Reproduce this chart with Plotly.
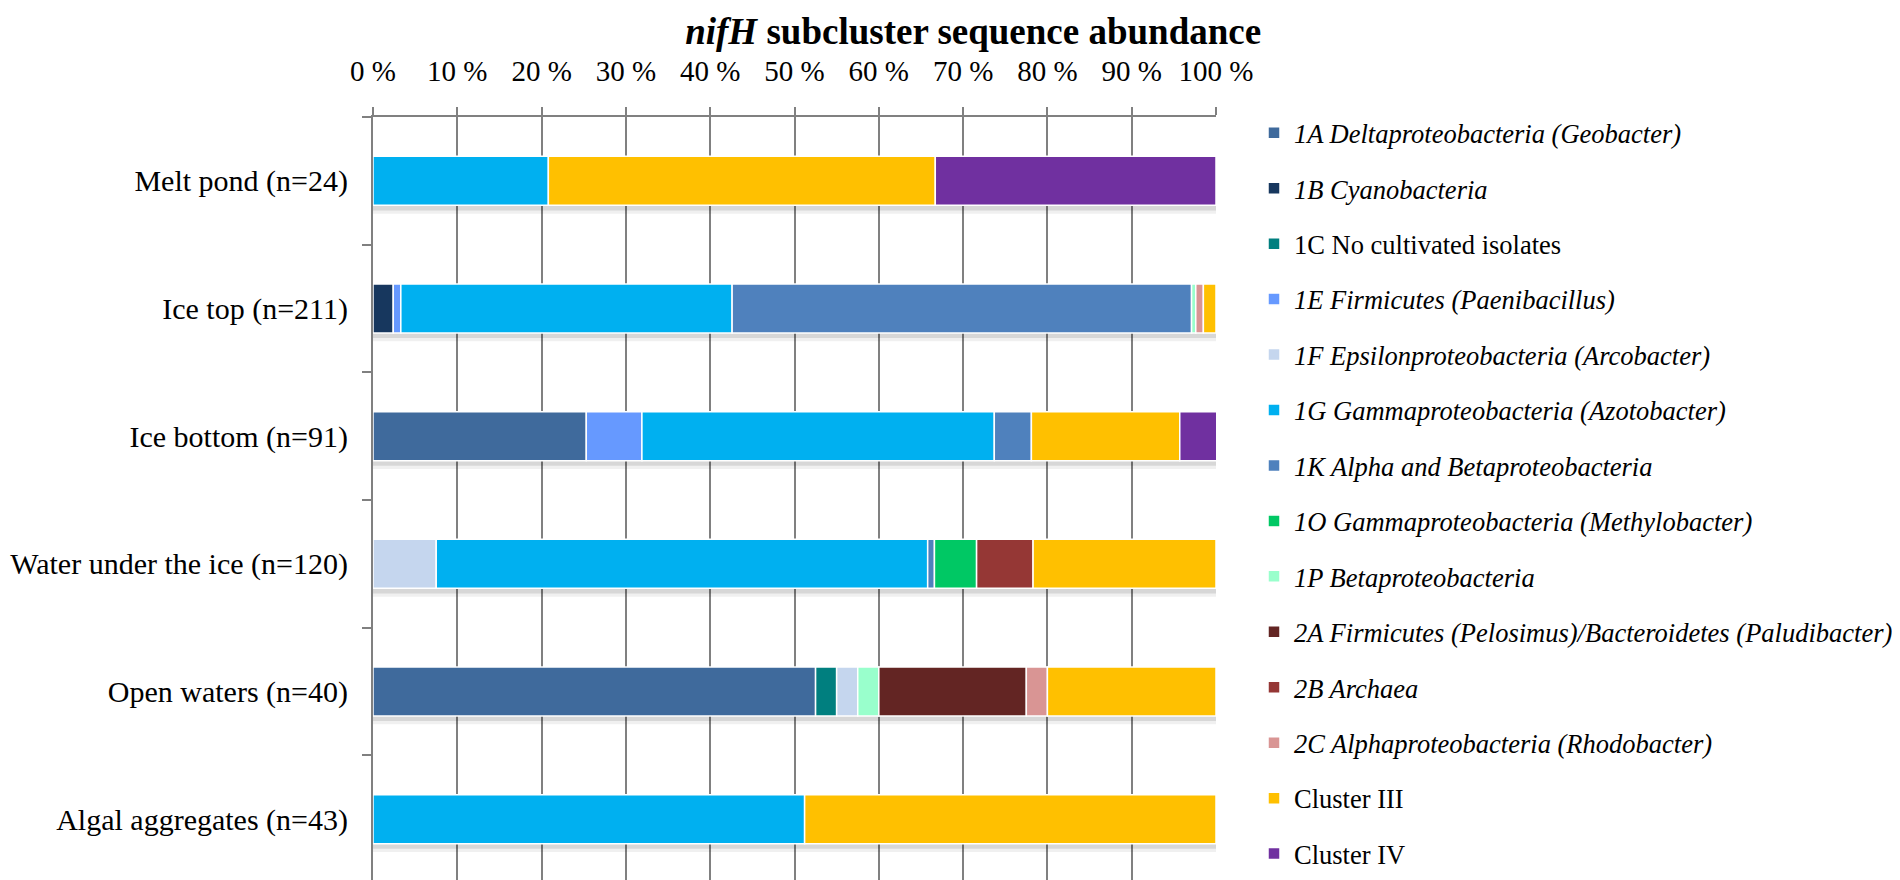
import numpy as np
import plotly.graph_objects as go


# ==========================================
# DATA
# ==========================================

muestras = [
    "Melt pond (n=24)",
    "Ice top (n=211)",
    "Ice bottom (n=91)",
    "Water under the ice (n=120)",
    "Open waters (n=40)",
    "Algal aggregates (n=43)",
]

grupos = [
    "<i>1A Deltaproteobacteria (Geobacter)</i>",
    "<i>1B Cyanobacteria</i>",
    "1C No cultivated isolates",
    "<i>1E Firmicutes (Paenibacillus)</i>",
    "<i>1F Epsilonproteobacteria (Arcobacter)</i>",
    "<i>1G Gammaproteobacteria (Azotobacter)</i>",
    "<i>1K Alpha and Betaproteobacteria</i>",
    "<i>1O Gammaproteobacteria (Methylobacter)</i>",
    "<i>1P Betaproteobacteria</i>",
    "<i>2A Firmicutes (Pelosimus)/Bacteroidetes (Paludibacter)</i>",
    "<i>2B Archaea</i>",
    "<i>2C Alphaproteobacteria (Rhodobacter)</i>",
    "Cluster III",
    "Cluster IV",
]

# % of sequences per sample (same order as muestras)
v_1a = [0, 0, 25.3, 0, 52.5, 0]
v_1b = [0, 2.4, 0, 0, 0, 0]
v_1c = [0, 0, 0, 0, 2.5, 0]
v_1e = [0, 0.9, 6.6, 0, 0, 0]
v_1f = [0, 0, 0, 7.5, 2.5, 0]
v_1g = [20.8, 39.3, 41.8, 58.3, 0, 51.2]
v_1k = [0, 54.5, 4.4, 0.8, 0, 0]
v_1o = [0, 0, 0, 5.0, 0, 0]
v_1p = [0, 0.5, 0, 0, 2.5, 0]
v_2a = [0, 0, 0, 0, 17.5, 0]
v_2b = [0, 0, 0, 6.7, 0, 0]
v_2c = [0, 0.9, 0, 0, 2.5, 0]
v_c3 = [45.9, 1.5, 17.6, 21.7, 20.0, 48.8]
v_c4 = [33.3, 0, 4.4, 0, 0, 0]

valores = [v_1a, v_1b, v_1c, v_1e, v_1f, v_1g, v_1k,
           v_1o, v_1p, v_2a, v_2b, v_2c, v_c3, v_c4]

colores = [
    "#3F6A9C", "#17375E", "#007F7F", "#6699FF", "#C5D6EE",
    "#00B0F0", "#4F81BD", "#00C864", "#99FFCC", "#632523",
    "#953735", "#D99594", "#FFC000", "#7030A0",
]

ticks_x = list(range(0, 101, 10))
texto_x = [f"{t} %" for t in ticks_x]

FUENTE = "Liberation Serif, Times New Roman, serif"

ANCHO = 0.384  # bar thickness (category units)


# ==========================================
# FIGURE
# ==========================================

fig = go.Figure()

# sombra bajo cada barra (como en Excel)
totales = np.sum(np.array(valores), axis=0)
for extra, alfa in [(0.055, 0.06), (0.03, 0.10)]:
    fig.add_trace(
        go.Bar(
            y=muestras,
            x=totales,
            base=0,
            orientation="h",
            width=ANCHO + extra,
            offset=-ANCHO / 2 + 0.01,
            marker=dict(color=f"rgba(0,0,0,{alfa})", line=dict(width=0)),
            showlegend=False,
            hoverinfo="skip",
        )
    )

# barras apiladas
acumulado = np.zeros(len(muestras))
for i, (nombre, vals, color) in enumerate(zip(grupos, valores, colores)):
    vals = np.array(vals, dtype=float)
    fig.add_trace(
        go.Bar(
            y=muestras,
            x=[v if v > 0 else None for v in vals],
            base=acumulado.copy(),
            orientation="h",
            width=ANCHO,
            offset=-ANCHO / 2,
            name=nombre,
            legendgroup=str(i),
            marker=dict(color=color, line=dict(color="white", width=1.5)),
        )
    )
    acumulado += vals

fig.update_layout(
    barmode="overlay",
    width=1900,
    height=880,
    paper_bgcolor="white",
    plot_bgcolor="white",
    margin=dict(l=365, r=692, t=109, b=5, autoexpand=False),
    font=dict(family=FUENTE, size=29, color="black"),
    title=dict(
        text="<b><i>nifH</i> subcluster sequence abundance</b>",
        font=dict(family=FUENTE, size=37, color="black"),
        x=0.508,
        xanchor="center",
        xref="container",
        y=1 - 23 / 880,
        yanchor="middle",
        yref="container",
    ),
    legend=dict(
        xref="container",
        yref="container",
        x=1246 / 1900,
        y=1 - 101 / 880,
        xanchor="left",
        yanchor="top",
        traceorder="grouped",
        tracegroupgap=18,
        font=dict(family=FUENTE, size=26.5, color="black"),
        bgcolor="rgba(0,0,0,0)",
        borderwidth=0,
    ),
    showlegend=True,
)

# leyenda larga: que no se corte
try:
    fig.update_layout(legend_maxheight=880)
except ValueError:
    pass

fig.update_xaxes(
    side="top",
    range=[0, 100],
    tickvals=ticks_x,
    ticktext=texto_x,
    showgrid=True,
    gridcolor="#808080",
    gridwidth=2,
    zeroline=False,
    showline=True,
    linecolor="#808080",
    linewidth=2,
    ticks="outside",
    ticklen=8,
    tickwidth=2,
    tickcolor="#808080",
    ticklabelstandoff=14,
    automargin=False,
    tickfont=dict(family=FUENTE, size=29, color="black"),
)

fig.update_yaxes(
    type="category",
    autorange="reversed",
    showgrid=False,
    zeroline=False,
    showline=True,
    linecolor="#808080",
    linewidth=2,
    ticks="outside",
    tickson="boundaries",
    ticklen=9,
    tickwidth=2,
    tickcolor="#808080",
    ticklabelstandoff=17,
    automargin=False,
    tickfont=dict(family=FUENTE, size=30, color="black"),
)

fig.write_html("out.html")
